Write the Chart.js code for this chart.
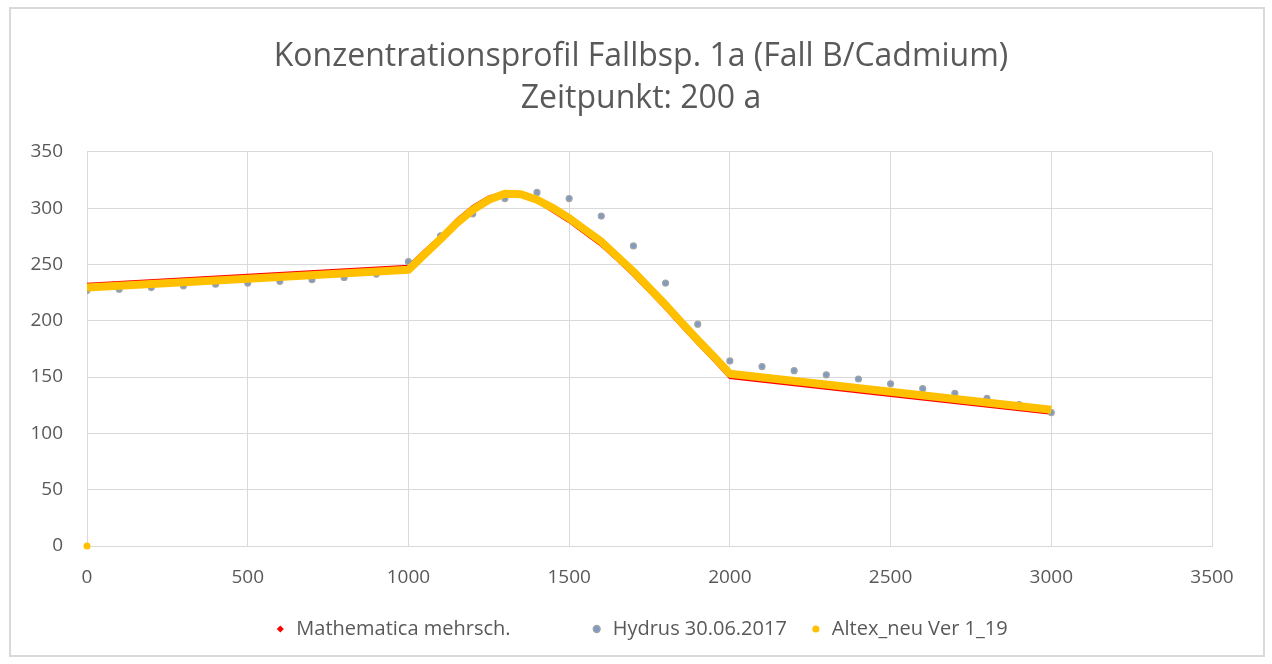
<!DOCTYPE html>
<html lang="de">
<head>
<meta charset="utf-8">
<title>Konzentrationsprofil Fallbsp. 1a</title>
<script src="https://cdn.jsdelivr.net/npm/chart.js@4.4.1/dist/chart.umd.min.js"></script>
<style>
    html, body { margin: 0; padding: 0; background: #ffffff; }
    #rahmen {
        position: absolute; left: 9px; top: 7px;
        width: 1256px; height: 650px;
        border: 2px solid #d9d9d9; box-sizing: border-box;
    }
    #wrap { position: absolute; left: 0; top: 0; width: 1272px; height: 664px; }
</style>
</head>
<body>
<div id="rahmen"></div>
<div id="wrap"><canvas id="profilChart"></canvas></div>
<script>
// Tiefe [cm] und Konzentrationen je Modell
const mathematicaX = [0, 500, 1000, 1050, 1100, 1150, 1200, 1250, 1300, 1350, 1400, 1450, 1500,
    1550, 1600, 1650, 1700, 1750, 1800, 1850, 1900, 1950, 2000, 2500, 3000];
const mathematicaY = [232.5, 240.4, 248.3, 262, 275, 289.6, 301.5, 310, 314, 312.4, 306, 297, 288,
    277.5, 267, 254, 240.5, 225.7, 211, 195.2, 179.8, 165, 149.5, 133.6, 117.8];

const hydrusX = [0, 100, 200, 300, 400, 500, 600, 700, 800, 900, 1000, 1100, 1200, 1300, 1400, 1500,
    1600, 1700, 1800, 1900, 2000, 2100, 2200, 2300, 2400, 2500, 2600, 2700, 2800, 2900, 3000];
const hydrusY = [227, 228, 229.5, 231, 232.5, 233.5, 235, 236.5, 238.5, 241.5, 252.5, 275.5, 295, 308.5, 314, 308.5,
    293, 266.5, 233.5, 197, 164.3, 159.3, 155.7, 152, 148.3, 144, 139.7, 135.6, 131, 125.5, 118.5];

// erster Punkt (0/0) steht allein, null trennt ihn von der Kurve
const altexX = [0, 0, 0, 500, 1000, 1050, 1100, 1150, 1200, 1250, 1300, 1350, 1400, 1450, 1500,
    1550, 1600, 1650, 1700, 1750, 1800, 1850, 1900, 1950, 2000, 2500, 3000];
const altexY = [0, null, 229.5, 237.4, 245.2, 259, 272.5, 286.6, 298.5, 307.4, 312.7, 312.4, 307.4, 300, 291.1,
    280.7, 270.3, 257, 243.7, 228.9, 214.1, 198.4, 183, 168.2, 153, 137, 121];

const xTicks = [0, 500, 1000, 1500, 2000, 2500, 3000, 3500];
const yTicks = [0, 50, 100, 150, 200, 250, 300, 350];

const titel = ['Konzentrationsprofil Fallbsp. 1a (Fall B/Cadmium)', 'Zeitpunkt: 200 a'];
const serienNamen = ['Mathematica mehrsch.', 'Hydrus 30.06.2017', 'Altex_neu Ver 1_19'];

const punkte = (xs, ys) => xs.map((x, i) => ({ x: x, y: ys[i] }));

document.addEventListener('DOMContentLoaded', () => {
    const grau = '#595959';
    const gitter = '#d9d9d9';
    const schrift = '"Open Sans", sans-serif';
    const tickFont = { family: schrift, size: 19 };

    new Chart(document.getElementById('profilChart'), {
        type: 'scatter',
        data: {
            datasets: [
                {
                    label: serienNamen[0],
                    data: punkte(mathematicaX, mathematicaY),
                    showLine: true,
                    clip: false,
                    borderColor: '#ff0000',
                    borderWidth: 3,
                    pointStyle: 'rectRot',
                    pointRadius: 0,
                    pointBackgroundColor: '#ff0000',
                    pointBorderColor: '#ff0000',
                    pointBorderWidth: 0,
                    order: 3
                },
                {
                    label: serienNamen[1],
                    data: punkte(hydrusX, hydrusY),
                    showLine: false,
                    pointStyle: 'circle',
                    pointRadius: 3,
                    pointBackgroundColor: '#7f9cc0',
                    pointBorderColor: '#a5a5a5',
                    pointBorderWidth: 1.2,
                    order: 2
                },
                {
                    label: serienNamen[2],
                    data: punkte(altexX, altexY),
                    showLine: true,
                    spanGaps: false,
                    clip: false,
                    borderColor: '#ffc000',
                    borderWidth: 8,
                    borderJoinStyle: 'round',
                    pointStyle: 'circle',
                    pointRadius: ctx => ctx.dataIndex === 0 ? 3.5 : 0,
                    pointBackgroundColor: '#ffc000',
                    pointBorderColor: '#ffc000',
                    pointBorderWidth: 0,
                    order: 1
                }
            ]
        },
        options: {
            responsive: true,
            maintainAspectRatio: false,
            animation: false,
            layout: { padding: { left: 10, right: 0, top: 0, bottom: 15 } },
            plugins: {
                title: {
                    display: true,
                    text: titel,
                    color: grau,
                    font: { family: schrift, size: 32, weight: 'normal', lineHeight: 1.31 },
                    padding: { top: 36, bottom: 32 }
                },
                legend: {
                    position: 'bottom',
                    labels: {
                        color: grau,
                        font: { family: schrift, size: 20 },
                        usePointStyle: true,
                        boxWidth: 12,
                        boxHeight: 5,
                        padding: 23,
                        sort: (a, b) => a.datasetIndex - b.datasetIndex,
                        // erster Eintrag bekommt mehr Luft nach rechts
                        generateLabels: chart => {
                            const items = Chart.defaults.plugins.legend.labels.generateLabels(chart);
                            items.forEach(item => {
                                if (item.datasetIndex === 0) item.text = item.text + ' '.repeat(11);
                            });
                            return items;
                        }
                    }
                },
                tooltip: { enabled: false }
            },
            scales: {
                x: {
                    type: 'linear',
                    min: 0,
                    max: 3500,
                    afterBuildTicks: axis => { axis.ticks = xTicks.map(v => ({ value: v })); },
                    afterFit: axis => { axis.height = 50; },
                    ticks: { color: grau, font: tickFont, padding: 20, callback: v => String(v) },
                    grid: { color: gitter, drawTicks: false },
                    border: { color: gitter }
                },
                y: {
                    type: 'linear',
                    min: 0,
                    max: 350,
                    afterBuildTicks: axis => { axis.ticks = yTicks.map(v => ({ value: v })); },
                    afterFit: axis => { axis.width = 77; },
                    ticks: { color: grau, font: tickFont, padding: 24, callback: v => String(v) },
                    grid: { color: gitter, drawTicks: false },
                    border: { color: gitter }
                },
                // leere Achse rechts hält den Abstand zum Rand frei
                rand: {
                    type: 'linear',
                    position: 'right',
                    display: true,
                    afterFit: axis => { axis.width = 60; },
                    ticks: { display: false },
                    grid: { display: false, drawTicks: false },
                    border: { display: false }
                }
            }
        }
    });
});
</script>
</body>
</html>
